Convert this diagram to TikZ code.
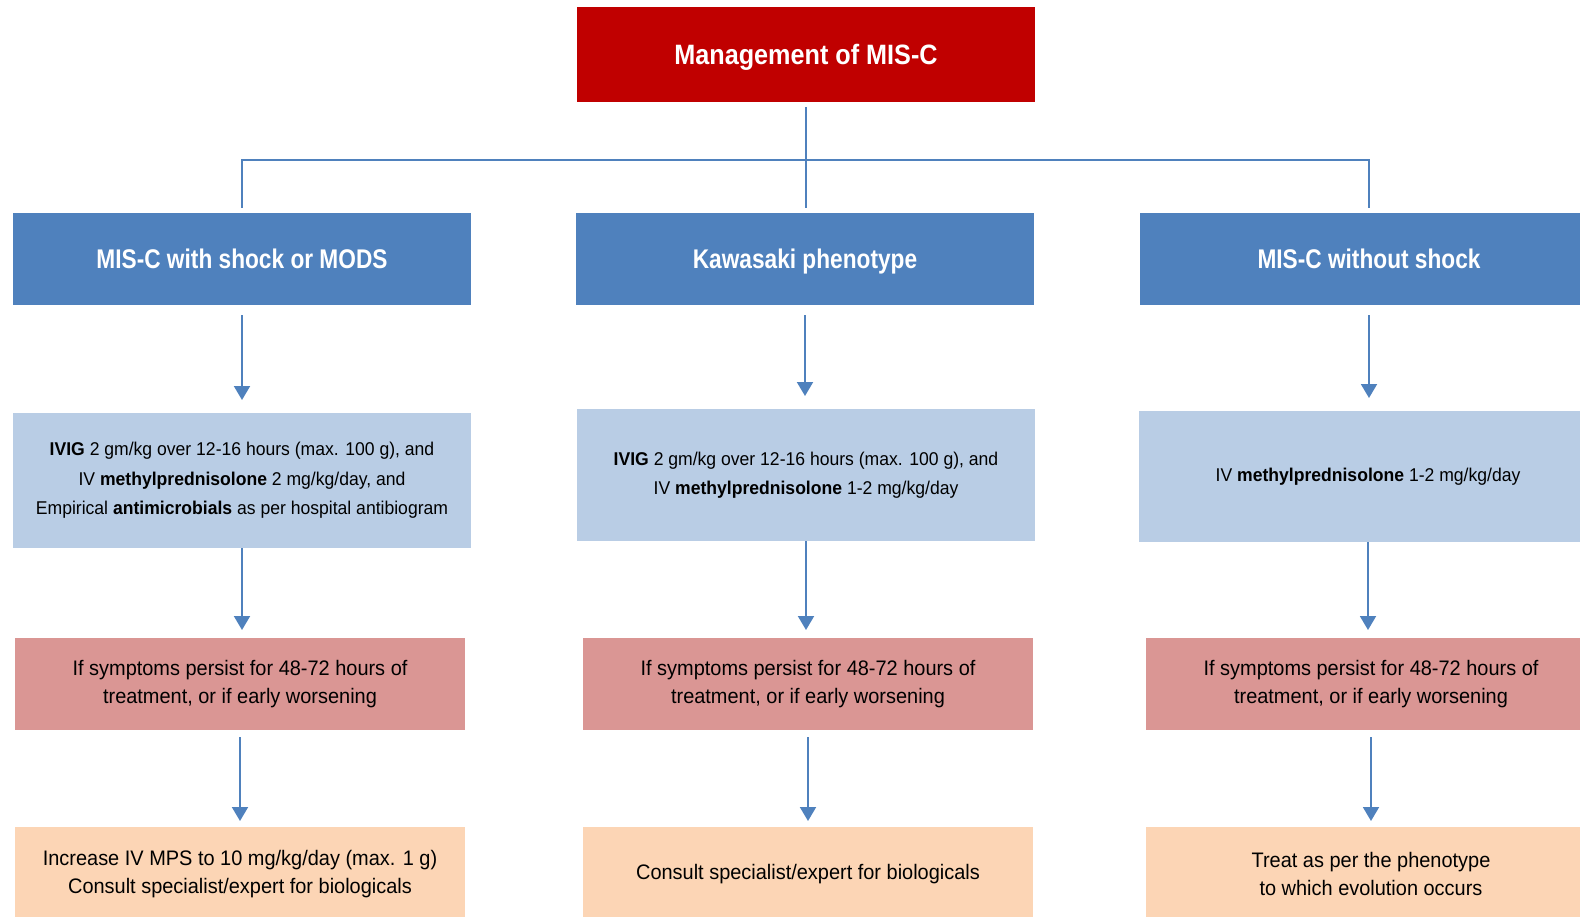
\documentclass[tikz,border=0pt]{standalone}
\usepackage{fontspec}
\setmainfont{Liberation Sans}[FakeStretch=0.84]
\newfontfamily\titlefont{Liberation Sans}[FakeStretch=0.9]
\newfontfamily\bodyfont{Liberation Sans}[FakeStretch=0.95]
\usepackage{xcolor}
\usepackage{tikz}
\usetikzlibrary{arrows.meta}

\definecolor{misred}{HTML}{C00000}
\definecolor{misblue}{HTML}{4F81BD}
\definecolor{lightblue}{HTML}{B9CDE5}
\definecolor{rosebox}{HTML}{DA9694}
\definecolor{peachbox}{HTML}{FCD5B5}

\begin{document}
\begin{tikzpicture}[x=1pt,y=1pt,
    card/.style={anchor=north west,inner sep=0pt,outer sep=0pt,align=center},
    titlebox/.style={card,fill=misred,text=white,minimum width=458,minimum height=95,
      text height=20pt,text depth=0pt,
      font=\fontsize{28}{32}\selectfont\titlefont\bfseries},
    phenbox/.style={card,fill=misblue,text=white,minimum width=458,minimum height=92,
      text height=19pt,text depth=0pt,
      font=\fontsize{27}{32}\selectfont\bfseries},
    treatbox/.style={card,fill=lightblue,minimum width=458,
      font=\fontsize{18.5}{29.5}\selectfont\bodyfont},
    persistbox/.style={card,fill=rosebox,minimum width=450,minimum height=92,
      font=\fontsize{21}{28}\selectfont\bodyfont},
    nextbox/.style={card,fill=peachbox,minimum width=450,minimum height=94,
      font=\fontsize{21}{28}\selectfont\bodyfont},
    link/.style={draw=misblue,line width=2pt},
    flow/.style={link,-{Triangle[width=16pt,length=14pt]}}]
  \useasboundingbox (0,0) rectangle (1580,-916);
  \clip (0,0) rectangle (1580,-916);

  \node[titlebox] (mgmt) at (577,-7) {Management of MIS-C};

  \node[phenbox] (shock) at (13,-213) {MIS-C with shock or MODS};
  \node[phenbox] (kawa) at (576,-213) {Kawasaki phenotype};
  \node[phenbox] (noshock) at (1140,-213) {MIS-C without shock};

  \node[treatbox,minimum height=135] (ivigA) at (13,-413)
    {\textbf{IVIG} 2 gm/kg over 12-16 hours (max. 100 g), and\\
     IV \textbf{methylprednisolone} 2 mg/kg/day, and\\
     Empirical \textbf{antimicrobials} as per hospital antibiogram};
  \node[treatbox,minimum height=132] (ivigB) at (577,-409)
    {\textbf{IVIG} 2 gm/kg over 12-16 hours (max. 100 g), and\\
     IV \textbf{methylprednisolone} 1-2 mg/kg/day};
  \node[treatbox,minimum height=131] (mpsC) at (1139,-411)
    {IV \textbf{methylprednisolone} 1-2 mg/kg/day};

  \node[persistbox] (persistA) at (15,-638)
    {If symptoms persist for 48-72 hours of\\ treatment, or if early worsening};
  \node[persistbox] (persistB) at (583,-638)
    {If symptoms persist for 48-72 hours of\\ treatment, or if early worsening};
  \node[persistbox] (persistC) at (1146,-638)
    {If symptoms persist for 48-72 hours of\\ treatment, or if early worsening};

  \node[nextbox] (nextA) at (15,-827)
    {Increase IV MPS to 10 mg/kg/day (max. 1 g)\\ Consult specialist/expert for biologicals};
  \node[nextbox] (nextB) at (583,-827)
    {Consult specialist/expert for biologicals};
  \node[nextbox] (nextC) at (1146,-827)
    {Treat as per the phenotype\\ to which evolution occurs};

  % tree from the title
  \coordinate (hub) at (806,-160);
  \draw[link,shorten <=5pt] (mgmt) -- (hub);
  \draw[link,shorten >=5pt] (hub) -| (shock);
  \draw[link,shorten >=5pt] (hub) -- (hub |- kawa.north);
  \draw[link,shorten >=5pt] (hub) -| (noshock);

  % column arrows
  \draw[flow,shorten <=10pt,shorten >=13pt] (shock) -- (shock |- ivigA.north);
  \draw[flow,shorten <=10pt,shorten >=13pt] (kawa) -- (kawa |- ivigB.north);
  \draw[flow,shorten <=10pt,shorten >=13pt] (noshock) -- (noshock |- mpsC.north);

  \draw[flow,shorten >=8pt] (ivigA) -- (ivigA |- persistA.north);
  \draw[flow,shorten >=8pt] (ivigB) -- (ivigB |- persistB.north);
  \draw[flow,shorten >=8pt] (mpsC) -- (mpsC |- persistC.north);

  \draw[flow,shorten <=7pt,shorten >=6pt] (persistA) -- (persistA |- nextA.north);
  \draw[flow,shorten <=7pt,shorten >=6pt] (persistB) -- (persistB |- nextB.north);
  \draw[flow,shorten <=7pt,shorten >=6pt] (persistC) -- (persistC |- nextC.north);
\end{tikzpicture}
\end{document}
